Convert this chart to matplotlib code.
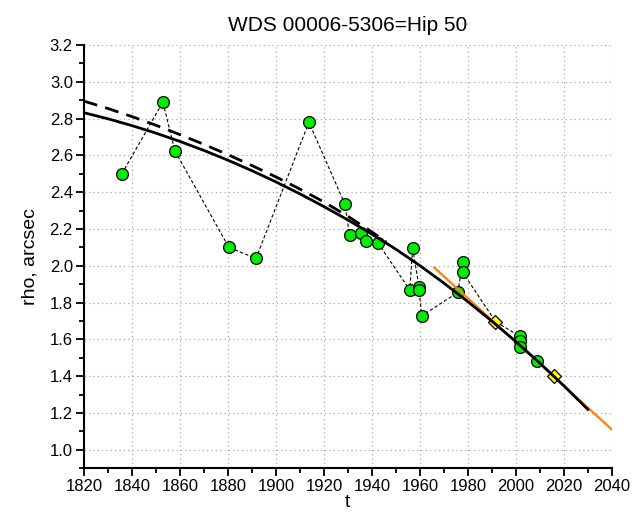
import numpy as np
import matplotlib.pyplot as plt
from matplotlib.ticker import MultipleLocator

plt.rcParams['font.family'] = ['Liberation Sans', 'DejaVu Sans']

# Observations (in time order); diamonds are the Hipparcos / Gaia-type points
obs_t = [1835.8, 1852.9, 1857.9, 1880.4, 1891.7, 1913.75, 1928.75, 1930.7,
         1935.4, 1937.4, 1942.5, 1955.8, 1957.0, 1959.6, 1959.6, 1960.8,
         1975.8, 1977.8, 1977.8, 1991.5, 2001.7, 2001.7, 2001.7, 2008.9, 2015.7]
obs_rho = [2.50, 2.89, 2.625, 2.10, 2.04, 2.78, 2.335, 2.167,
           2.177, 2.135, 2.125, 1.868, 2.097, 1.885, 1.87, 1.728,
           1.855, 2.018, 1.965, 1.697, 1.616, 1.589, 1.558, 1.485, 1.402]
diamond_t = [1991.5, 2015.7]
diamond_rho = [1.697, 1.402]

# Orbit curve (solid)
orb_t = [1820, 1830, 1840, 1850, 1860, 1870, 1880, 1890, 1900, 1910, 1920,
         1930, 1940, 1950, 1960, 1970, 1980, 1990, 2000, 2010, 2020, 2030]
orb_rho = [2.832, 2.799, 2.762, 2.721, 2.676, 2.627, 2.574, 2.517, 2.456,
           2.391, 2.322, 2.249, 2.172, 2.090, 2.001, 1.906, 1.805, 1.699,
           1.588, 1.471, 1.348, 1.219]

# Older orbit (dashed)
old_t = [1820, 1830, 1840, 1850, 1860, 1870, 1880, 1890, 1900, 1910, 1920,
         1930, 1940, 1946]
old_rho = [2.895, 2.855, 2.811, 2.764, 2.713, 2.660, 2.604, 2.545, 2.483,
           2.417, 2.347, 2.269, 2.184, 2.129]

# Linear fit (orange)
lin_t = [1966, 2040]
lin_rho = [1.99, 1.11]

fig = plt.figure(figsize=(6.36, 5.26), dpi=100)
ax = fig.add_axes([0.132, 0.110, 0.830, 0.8044])

green_t = [t for t in obs_t if t not in diamond_t]
green_rho = [r for t, r in zip(obs_t, obs_rho) if t not in diamond_t]

ax.plot(obs_t, obs_rho, color='black', lw=0.8, ls=(0, (3, 2)), zorder=2)
ax.plot(green_t, green_rho, 'o', ms=8.5, mfc='#00ee00', mec='black', mew=0.9, zorder=3)
ax.plot(diamond_t, diamond_rho, 'D', ms=7.5, mfc='#ffff00', mec='black', mew=0.9, zorder=3)
ax.plot(lin_t, lin_rho, color='#ff8000', lw=1.6, zorder=4)
ax.plot(orb_t, orb_rho, color='black', lw=2.0, zorder=5)
ax.plot(old_t, old_rho, color='black', lw=2.0, ls=(0, (5, 3)), zorder=5)

ax.set_xlim(1820, 2040)
ax.set_ylim(0.9, 3.2)
ax.xaxis.set_major_locator(MultipleLocator(20))
ax.xaxis.set_minor_locator(MultipleLocator(10))
ax.yaxis.set_minor_locator(MultipleLocator(0.1))
ax.set_yticks(np.arange(1.0, 3.21, 0.2))
ax.yaxis.set_major_formatter(plt.FormatStrFormatter('%.1f'))

ax.grid(True, which='major', color='#aaaaaa', ls=(0, (1, 2.5)), lw=0.9)
ax.spines['top'].set_visible(False)
ax.spines['right'].set_visible(False)
ax.spines['left'].set_linewidth(1.5)
ax.spines['bottom'].set_linewidth(1.5)
ax.tick_params(which='major', direction='out', length=6, width=1.3, labelsize=12, pad=2)
ax.tick_params(which='minor', direction='out', length=3.5, width=1.3)

ax.set_xlabel('t', fontsize=14, labelpad=0)
ax.set_ylabel('rho, arcsec', fontsize=14, labelpad=8)
ax.set_title('WDS 00006-5306=Hip 50', fontsize=15, pad=10)

fig.savefig('out.png', dpi=100)
